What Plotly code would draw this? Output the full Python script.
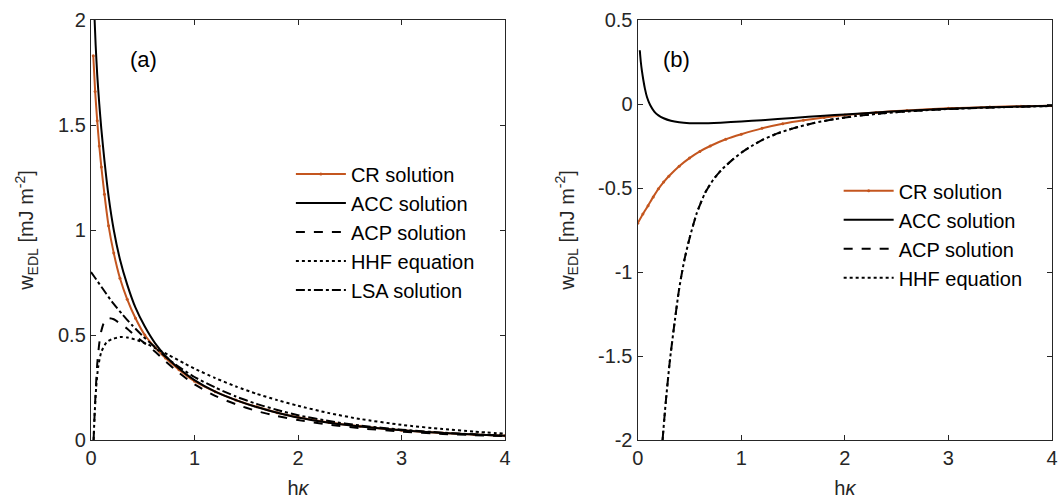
import plotly.graph_objects as go

# ---------------- data: panel (a) ----------------
cr_a_x = [0.022, 0.04, 0.06, 0.08, 0.1, 0.13, 0.17, 0.22, 0.28, 0.35, 0.43, 0.52, 0.62, 0.72, 0.85,
          1.0, 1.2, 1.4, 1.6, 1.8, 2.0, 2.3, 2.6, 3.0, 3.4, 3.7, 4.0]
cr_a_y = [1.83, 1.66, 1.52, 1.40, 1.30, 1.17, 1.02, 0.89, 0.77, 0.67, 0.58, 0.50, 0.44, 0.39, 0.335,
          0.28, 0.23, 0.19, 0.158, 0.13, 0.108, 0.083, 0.065, 0.046, 0.033, 0.026, 0.02]

acc_a_x = [0.035, 0.045, 0.06, 0.08, 0.1, 0.13, 0.17, 0.22, 0.28, 0.35, 0.43, 0.52, 0.62, 0.72, 0.85,
           1.0, 1.2, 1.4, 1.6, 1.8, 2.0, 2.3, 2.6, 3.0, 3.4, 3.7, 4.0]
acc_a_y = [2.0, 1.88, 1.74, 1.60, 1.48, 1.33, 1.16, 1.00, 0.86, 0.74, 0.63, 0.54, 0.46, 0.40, 0.34,
           0.285, 0.23, 0.19, 0.157, 0.13, 0.107, 0.082, 0.064, 0.046, 0.033, 0.026, 0.02]

acp_a_x = [0.025, 0.04, 0.06, 0.08, 0.1, 0.13, 0.17, 0.22, 0.28, 0.35, 0.43, 0.52, 0.62, 0.72, 0.85,
           1.0, 1.2, 1.4, 1.6, 1.8, 2.0, 2.3, 2.6, 3.0, 3.4, 3.7, 4.0]
acp_a_y = [0.0, 0.18, 0.36, 0.46, 0.52, 0.565, 0.58, 0.575, 0.555, 0.53, 0.495, 0.46, 0.42, 0.375, 0.32,
           0.265, 0.21, 0.17, 0.138, 0.114, 0.095, 0.073, 0.056, 0.04, 0.029, 0.023, 0.018]

hhf_a_x = [0.025, 0.035, 0.05, 0.07, 0.1, 0.15, 0.2, 0.28, 0.35, 0.45, 0.55, 0.65, 0.75, 0.9,
           1.0, 1.2, 1.4, 1.6, 1.8, 2.0, 2.3, 2.6, 3.0, 3.4, 3.7, 4.0]
hhf_a_y = [0.0, 0.12, 0.25, 0.35, 0.42, 0.465, 0.48, 0.49, 0.488, 0.475, 0.455, 0.43, 0.405, 0.365,
           0.34, 0.295, 0.255, 0.22, 0.19, 0.163, 0.128, 0.1, 0.072, 0.052, 0.04, 0.03]

lsa_a_x = [0.0, 0.1, 0.2, 0.3, 0.4, 0.5, 0.6, 0.7, 0.8, 1.0, 1.2, 1.4, 1.6, 1.8, 2.0, 2.3, 2.6,
           3.0, 3.4, 3.7, 4.0]
lsa_a_y = [0.80, 0.73, 0.66, 0.60, 0.545, 0.495, 0.45, 0.405, 0.365, 0.30, 0.25, 0.207, 0.172, 0.143,
           0.118, 0.09, 0.069, 0.049, 0.035, 0.027, 0.021]

# ---------------- data: panel (b) ----------------
cr_b_x = [0.0, 0.05, 0.1, 0.15, 0.2, 0.25, 0.3, 0.4, 0.5, 0.6, 0.7, 0.85, 1.0, 1.2, 1.4, 1.6, 1.8,
          2.0, 2.3, 2.6, 3.0, 3.4, 3.7, 4.0]
cr_b_y = [-0.71, -0.655, -0.605, -0.553, -0.505, -0.465, -0.43, -0.37, -0.322, -0.282, -0.25, -0.21,
          -0.18, -0.145, -0.118, -0.097, -0.08, -0.066, -0.05, -0.038, -0.026, -0.018, -0.013, -0.01]

acc_b_x = [0.02, 0.03, 0.04, 0.055, 0.07, 0.09, 0.12, 0.16, 0.2, 0.25, 0.32, 0.4, 0.5, 0.6, 0.8,
           1.0, 1.2, 1.5, 1.8, 2.0, 2.3, 2.6, 3.0, 3.4, 3.7, 4.0]
acc_b_y = [0.32, 0.25, 0.2, 0.14, 0.09, 0.04, -0.006, -0.045, -0.068, -0.085, -0.1, -0.109, -0.114,
           -0.115, -0.111, -0.104, -0.096, -0.083, -0.07, -0.062, -0.05, -0.04, -0.029, -0.02,
           -0.015, -0.011]

acp_b_x = [0.24, 0.27, 0.31, 0.35, 0.4, 0.45, 0.5, 0.57, 0.65, 0.73, 0.82, 0.9, 1.0, 1.1, 1.2,
           1.35, 1.5, 1.7, 1.9, 2.1, 2.4, 2.7, 3.0, 3.4, 3.7, 4.0]
acp_b_y = [-2.0, -1.78, -1.53, -1.33, -1.1, -0.93, -0.8, -0.65, -0.53, -0.45, -0.385, -0.34, -0.29,
           -0.25, -0.215, -0.175, -0.145, -0.113, -0.09, -0.072, -0.054, -0.04, -0.03, -0.021,
           -0.016, -0.012]

hhf_b_x = [0.24, 0.27, 0.31, 0.35, 0.4, 0.45, 0.5, 0.57, 0.65, 0.73, 0.82, 0.9, 1.0, 1.1, 1.2,
           1.35, 1.5, 1.7, 1.9, 2.1, 2.4, 2.7, 3.0, 3.4, 3.7, 4.0]
hhf_b_y = [-2.0, -1.78, -1.53, -1.33, -1.1, -0.93, -0.8, -0.65, -0.53, -0.45, -0.385, -0.34, -0.29,
           -0.25, -0.215, -0.175, -0.145, -0.113, -0.09, -0.072, -0.054, -0.04, -0.03, -0.021,
           -0.016, -0.012]

x_ticks = [0, 1, 2, 3, 4]
y_ticks_a = [0, 0.5, 1, 1.5, 2]
y_ticks_a_text = ["0", "0.5", "1", "1.5", "2"]
y_ticks_b = [-2, -1.5, -1, -0.5, 0, 0.5]
y_ticks_b_text = ["-2", "-1.5", "-1", "-0.5", "0", "0.5"]

ORANGE = "#c4561f"
BLACK = "#000000"
AX = "#262626"
FONT = "Liberation Sans, Arial, Helvetica, sans-serif"
FS = 20

fig = go.Figure()

def add(x, y, name, color, dash, xa, ya, legend, markers=False, width=2):
    fig.add_trace(go.Scatter(
        x=x, y=y, name=name, xaxis=xa, yaxis=ya, legend=legend,
        mode="lines+markers" if markers else "lines",
        line=dict(color=color, dash=dash, width=width, shape="spline", smoothing=0.6),
        marker=dict(size=3, color=color) if markers else None,
        cliponaxis=True,
    ))

add(cr_a_x, cr_a_y, "CR solution", ORANGE, "solid", "x", "y", "legend", markers=True)
add(acc_a_x, acc_a_y, "ACC solution", BLACK, "solid", "x", "y", "legend")
add(acp_a_x, acp_a_y, "ACP solution", BLACK, "dash", "x", "y", "legend")
add(hhf_a_x, hhf_a_y, "HHF equation", BLACK, "dot", "x", "y", "legend")
add(lsa_a_x, lsa_a_y, "LSA solution", BLACK, "dashdot", "x", "y", "legend")

add(cr_b_x, cr_b_y, "CR solution", ORANGE, "solid", "x2", "y2", "legend2", markers=True)
add(acc_b_x, acc_b_y, "ACC solution", BLACK, "solid", "x2", "y2", "legend2")
add(acp_b_x, acp_b_y, "ACP solution", BLACK, "dash", "x2", "y2", "legend2")
add(hhf_b_x, hhf_b_y, "HHF equation", BLACK, "dot", "x2", "y2", "legend2")

axis_common = dict(
    showline=True, linecolor=AX, linewidth=1.4, mirror="ticks",
    ticks="inside", ticklen=5, tickwidth=1.2, tickcolor=AX,
    showgrid=False, zeroline=False, automargin=False,
    tickfont=dict(family=FONT, size=FS, color=AX),
)

ytitle = "w<sub>EDL</sub> [mJ m<sup>-2</sup>]"
xtitle = "h<i>κ</i>"

fig.update_layout(
    width=1061, height=501,
    margin=dict(l=91, r=9, t=20, b=61),
    paper_bgcolor="white", plot_bgcolor="white",
    font=dict(family=FONT, size=FS, color=AX),
    xaxis=dict(domain=[0, 0.4308], range=[0, 4], tickvals=x_ticks, anchor="y",
               title=dict(text=xtitle, standoff=12, font=dict(size=FS)), **axis_common),
    yaxis=dict(domain=[0, 1], range=[0, 2], tickvals=y_ticks_a, ticktext=y_ticks_a_text, anchor="x",
               title=dict(text=ytitle, standoff=18, font=dict(size=FS)), **axis_common),
    xaxis2=dict(domain=[0.5689, 1], range=[0, 4], tickvals=x_ticks, anchor="y2",
                title=dict(text=xtitle, standoff=12, font=dict(size=FS)), **axis_common),
    yaxis2=dict(domain=[0, 1], range=[-2, 0.5], tickvals=y_ticks_b, ticktext=y_ticks_b_text, anchor="x2",
                title=dict(text=ytitle, standoff=18, font=dict(size=FS)), **axis_common),
    legend=dict(x=0.208, y=0.68, xanchor="left", yanchor="top", xref="paper", yref="paper",
                bgcolor="rgba(255,255,255,0)", borderwidth=0, itemwidth=50,
                font=dict(family=FONT, size=FS, color="#000000"), tracegroupgap=0),
    legend2=dict(x=0.778, y=0.64, xanchor="left", yanchor="top", xref="paper", yref="paper",
                 bgcolor="rgba(255,255,255,0)", borderwidth=0, itemwidth=50,
                 font=dict(family=FONT, size=FS, color="#000000"), tracegroupgap=0),
    showlegend=True,
    annotations=[
        dict(text="(a)", x=0.0385, y=0.94, xref="paper", yref="paper", showarrow=False,
             font=dict(family=FONT, size=22, color="#000000")),
        dict(text="(b)", x=0.6095, y=0.94, xref="paper", yref="paper", showarrow=False,
             font=dict(family=FONT, size=22, color="#000000")),
    ],
)

fig.write_html("out.html")
